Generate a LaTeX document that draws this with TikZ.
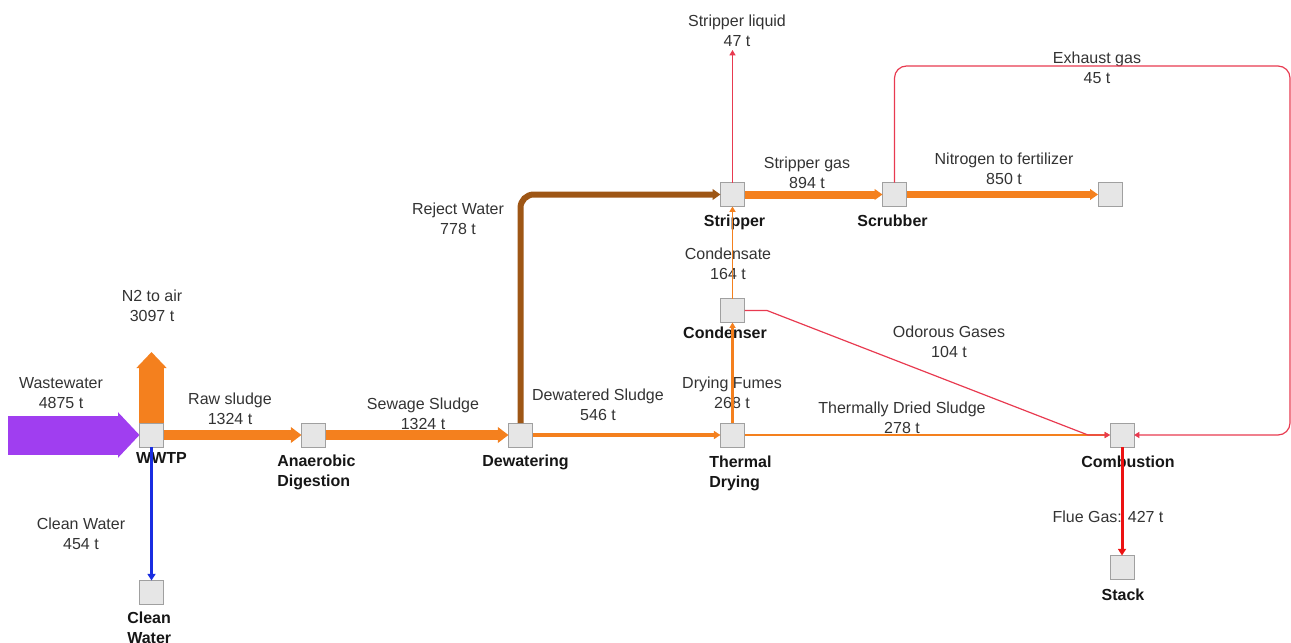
\documentclass[tikz,border=0pt]{standalone}
\usepackage{fontspec}
\setmainfont{Liberation Sans}
\usetikzlibrary{arrows.meta}

\definecolor{flowOrange}{RGB}{244,128,30}
\definecolor{flowBrown}{RGB}{158,86,21}
\definecolor{flowPurple}{RGB}{160,62,240}
\definecolor{flowBlue}{RGB}{25,45,225}
\definecolor{flowRed}{RGB}{232,58,80}
\definecolor{flueRed}{RGB}{236,18,18}
\definecolor{boxFill}{RGB}{230,230,230}
\definecolor{boxLine}{RGB}{160,160,160}
\definecolor{labelText}{RGB}{51,51,51}
\definecolor{unitText}{RGB}{22,22,22}

\begin{document}
\begin{tikzpicture}[
  x=0.75pt, y=-0.75pt,
  unitbox/.style={draw=boxLine, fill=boxFill, line width=0.75pt,
    minimum size=18pt, inner sep=0pt, outer sep=0pt},
  flowlabel/.style={text=labelText, font=\fontsize{12}{15}\selectfont,
    align=center, anchor=base, inner sep=0pt},
  unitlabel/.style={text=unitText, font=\fontsize{12}{15}\selectfont\bfseries,
    anchor=base, inner sep=0pt},
  flow/.style={line cap=butt, line join=miter},
  bigtip/.style={-{Triangle[length=8pt,width=11.5pt]}},
  midtip/.style={-{Triangle[length=6pt,width=8pt]}},
  smalltip/.style={-{Triangle[length=5pt,width=6pt]}},
  thintip/.style={-{Triangle[length=4pt,width=4.5pt]}},
]
\useasboundingbox (0,0) rectangle (1291,642);

% process units
\node[unitbox] (wwtp)  at (151.5,435) {};
\node[unitbox] (ad)    at (313.5,435) {};
\node[unitbox] (dew)   at (520.5,435) {};
\node[unitbox] (td)    at (732.5,435) {};
\node[unitbox] (comb)  at (1122,435) {};
\node[unitbox] (stack) at (1122,567.5) {};
\node[unitbox] (cw)    at (151.5,592.5) {};
\node[unitbox] (strip) at (732.5,194.5) {};
\node[unitbox] (scrub) at (894.5,194.5) {};
\node[unitbox] (fert)  at (1110,194.5) {};
\node[unitbox] (cond)  at (732.5,310.5) {};

% unit names (two-line names are placed by the baseline of their last line)
\node[unitlabel] (lWwtp)  at (161.5,463) {WWTP};
\node[unitlabel, align=left, anchor=base west] (lAd) at (277,486) {Anaerobic\\Digestion};
\node[unitlabel] (lDew)   at (525.5,466) {Dewatering};
\node[unitlabel, align=left, anchor=base west] (lTd) at (709,487) {Thermal\\Drying};
\node[unitlabel] (lComb)  at (1128,467.5) {Combustion};
\node[unitlabel] (lStack) at (1123,600) {Stack};
\node[unitlabel, align=left, anchor=base west] (lCw) at (127,643) {Clean\\Water};
\node[unitlabel] (lStrip) at (734.5,226.5) {Stripper};
\node[unitlabel] (lScrub) at (892.5,226.5) {Scrubber};
\node[unitlabel] (lCond)  at (725,338.5) {Condenser};

% stream labels
\node[flowlabel] (tLiquid) at (737,47)   {Stripper liquid\\47 t};
\node[flowlabel] (tExh)    at (1097,84)  {Exhaust gas\\45 t};
\node[flowlabel] (tSgas)   at (807,188)  {Stripper gas\\894 t};
\node[flowlabel] (tNit)    at (1004,184) {Nitrogen to fertilizer\\850 t};
\node[flowlabel] (tReject) at (458,234)  {Reject Water\\778 t};
\node[flowlabel] (tCondn)  at (728,279)  {Condensate\\164 t};
\node[flowlabel] (tN2)     at (152,321)  {N2 to air\\3097 t};
\node[flowlabel] (tOdor)   at (949,357)  {Odorous Gases\\104 t};
\node[flowlabel] (tWaste)  at (61,408)   {Wastewater\\4875 t};
\node[flowlabel] (tRaw)    at (230,424)  {Raw sludge\\1324 t};
\node[flowlabel] (tSew)    at (423,429)  {Sewage Sludge\\1324 t};
\node[flowlabel] (tDewd)   at (598,420)  {Dewatered Sludge\\546 t};
\node[flowlabel] (tFumes)  at (732,408)  {Drying Fumes\\268 t};
\node[flowlabel] (tDried)  at (902,433)  {Thermally Dried Sludge\\278 t};
\node[flowlabel] (tClean)  at (81,549)   {Clean Water\\454 t};
\node[flowlabel] (tFlue)   at (1108,522) {Flue Gas: 427 t};

% free ends and bends
\coordinate (wwIn)    at (8,435);
\coordinate (n2Out)   at (151.5,352);
\coordinate (liqOut)  at (732.5,50);
\coordinate (exTop)   at (1290,66);
\coordinate (odBend1) at (767,310.5);
\coordinate (odBend2) at (1088,435);

% streams
\draw[flow, flowPurple, line width=29.25pt,
      -{Triangle[length=16pt,width=33pt]}] (wwIn) -- (wwtp.west);
\draw[flow, flowOrange, line width=18.75pt,
      -{Triangle[length=12pt,width=22pt]}] (wwtp.north) -- (n2Out);
\draw[flow, flowOrange, line width=7.5pt, bigtip] (wwtp.east) -- (ad.west);
\draw[flow, flowOrange, line width=7.5pt, bigtip] (ad.east) -- (dew.west);
\draw[flow, flowOrange, line width=3pt, smalltip] (dew.east) -- (td.west);
\draw[flow, flowBrown, line width=4.5pt, midtip, rounded corners=10pt]
      (dew.north) |- (strip.west);
\draw[flow, flowRed, line width=0.9pt, thintip] (strip.north) -- (liqOut);
\draw[flow, flowOrange, line width=6pt, midtip] (strip.east) -- (scrub.west);
\draw[flow, flowOrange, line width=5pt, midtip] (scrub.east) -- (fert.west);
\draw[flow, flowRed, line width=0.9pt, thintip, rounded corners=9pt]
      (scrub.north) |- (exTop) |- (comb.east);
\draw[flow, flowOrange, line width=1.1pt, thintip] (cond.north) -- (strip.south);
\draw[flow, flowOrange, line width=1.7pt, thintip] (td.north) -- (cond.south);
\draw[flow, flowOrange, line width=1.7pt, thintip] (td.east) -- (comb.west);
\draw[flow, flowRed, line width=0.9pt, thintip]
      (cond.east) -- (odBend1) -- (odBend2) -- (comb.west);
\draw[flow, flueRed, line width=2.25pt, smalltip] (comb.south) -- (stack.north);
\draw[flow, flowBlue, line width=2.25pt, smalltip] (wwtp.south) -- (cw.north);
\end{tikzpicture}
\end{document}
